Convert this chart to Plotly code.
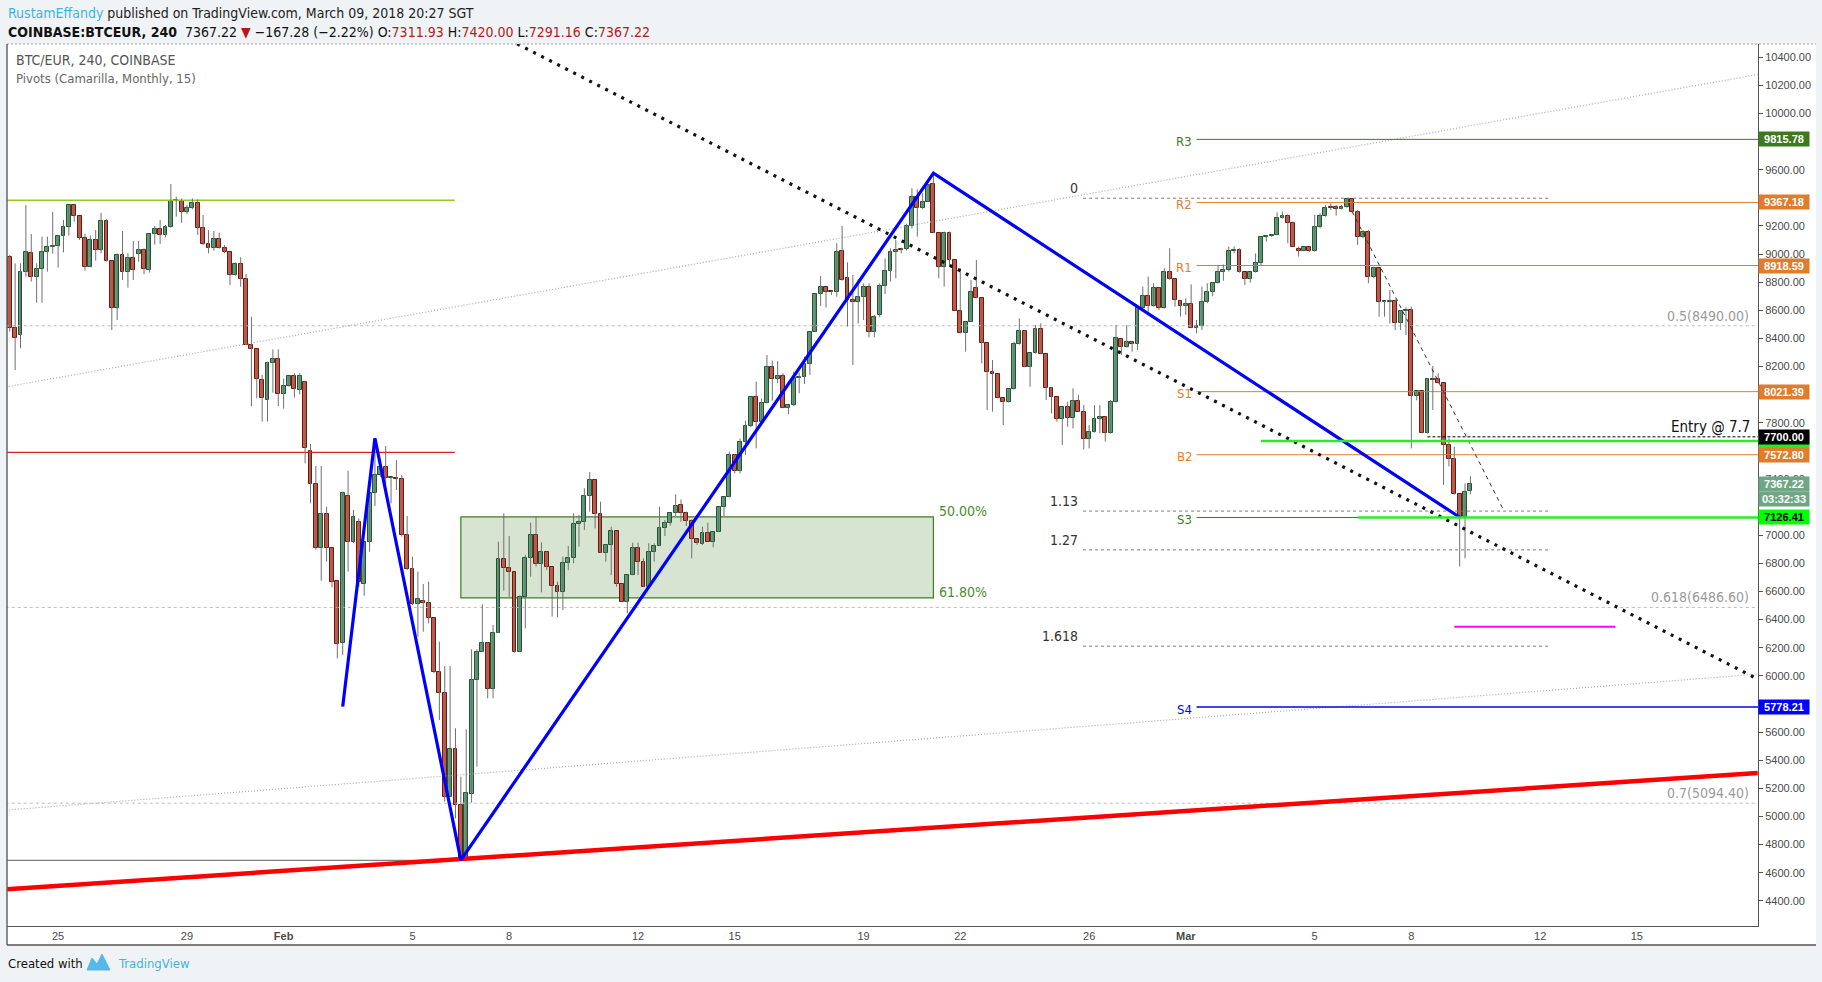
import plotly.graph_objects as go
import pandas as pd
import numpy as np

# ---------------- data ----------------
start_time = "2018-01-23 12:00"   # first 4h candle

opens = [
    8977, 8472, 8424, 8875, 9005, 8835, 8891, 9012, 9048, 9055,
    9126, 9190, 9349, 9268, 9112, 8906, 9098, 9027, 9233, 8948,
    8614, 8991, 8870, 8970, 9000, 9027, 8884, 9140, 9176, 9133,
    9190, 9380, 9378, 9297, 9325, 9361, 9183, 9069, 9041, 9105,
    9041, 9012, 8849, 8927, 8820, 8356, 8322, 8102, 7960, 8223,
    8251, 8002, 8059, 8130, 8031, 8088, 7599, 7362, 6907, 7149,
    6907, 6672, 6231, 7282, 6950, 7092, 6653, 6950, 7303, 7426,
    7483, 7407, 7410, 7398, 7002, 6758, 6511, 6530, 6516, 6409,
    6025, 5876, 5141, 5477, 5079, 4690, 5157, 5970, 6172, 6236,
    5904, 6307, 6829, 6765, 6736, 6172, 6558, 6841, 7000, 6796,
    6883, 6772, 6639, 6594, 6800, 6836, 7078, 7092, 7279, 7393,
    7149, 6876, 6931, 7028, 6651, 6523, 6717, 6907, 6808, 6634,
    6879, 6924, 7049, 7085, 7156, 7213, 7156, 7104, 6971, 6940,
    7019, 6955, 7026, 7199, 7274, 7568, 7455, 7661, 7777, 7981,
    7803, 7943, 8195, 8109, 8135, 7903, 7924, 8121, 8128, 8216,
    8448, 8714, 8764, 8737, 8728, 9024, 8828, 8673, 8661, 8697,
    8768, 8443, 8564, 8775, 8882, 9013, 9034, 9034, 9202, 9408,
    9325, 9373, 9498, 9148, 8911, 9148, 8958, 8598, 8441, 8519,
    8756, 8685, 8365, 8159, 8145, 7974, 7946, 8038, 8358, 8455,
    8195, 8294, 8465, 8287, 8050, 7981, 7825, 7910, 7832, 7953,
    7879, 7682, 7732, 7825, 7844, 7725, 7946, 8396, 8337, 8377,
    8360, 8614, 8704, 8633, 8761, 8614, 8870, 8820, 8667, 8633,
    8643, 8472, 8488, 8657, 8728, 8797, 8875, 8887, 9024, 9029,
    8870, 8820, 8870, 8934, 9119, 9131, 9136, 9254, 9273, 9219,
    9036, 9024, 9048, 9022, 9190, 9273, 9332, 9332, 9318, 9332,
    9389, 9302, 9119, 9155, 8835, 8898, 8657, 8662, 8669, 8512,
    8598, 8603, 7993, 8026, 7725, 8109, 8114, 8081, 7642, 7540,
    7291, 7132, 7311.93,
]
highs = [
    8993, 8934, 8934, 9349, 9143, 8934, 9124, 9124, 9299, 9136,
    9242, 9349, 9352, 9270, 9143, 9131, 9171, 9292, 9249, 8950,
    9005, 9164, 9005, 9093, 9093, 9041, 9140, 9200, 9242, 9207,
    9498, 9408, 9396, 9349, 9396, 9389, 9278, 9171, 9164, 9152,
    9064, 9015, 8941, 8977, 8858, 8555, 8325, 8140, 8235, 8322,
    8322, 8116, 8132, 8152, 8152, 8100, 7649, 7493, 7493, 7203,
    6910, 6675, 7310, 7459, 7180, 7120, 6955, 7305, 7678, 7485,
    7635, 7414, 7535, 7428, 7137, 6848, 6741, 6653, 6670, 6412,
    6243, 6070, 6070, 5627, 5283, 5620, 6189, 6189, 6509, 6240,
    6362, 6954, 7156, 6995, 6740, 6575, 6860, 7090, 7132, 6950,
    6885, 6775, 6670, 6848, 6924, 7156, 7144, 7334, 7450, 7395,
    7239, 6935, 7061, 7030, 6655, 6717, 6947, 6947, 6836, 6943,
    6943, 7203, 7109, 7158, 7291, 7255, 7168, 7113, 6973, 7061,
    7090, 7026, 7199, 7274, 7595, 7578, 7689, 7815, 7981, 8093,
    7974, 8282, 8242, 8240, 8152, 7924, 8164, 8156, 8270, 8448,
    8714, 8844, 8764, 8738, 9077, 9200, 8941, 8851, 8820, 8792,
    8792, 8567, 8792, 8970, 9041, 9100, 9045, 9215, 9468, 9461,
    9432, 9498, 9574, 9150, 9160, 9160, 8960, 8899, 8521, 8816,
    8958, 8687, 8367, 8247, 8147, 7976, 8038, 8377, 8543, 8457,
    8294, 8496, 8507, 8289, 8052, 7983, 7910, 7950, 8045, 7998,
    7926, 7784, 7926, 7926, 7846, 7962, 8496, 8398, 8496, 8379,
    8614, 8768, 8839, 8792, 8763, 8899, 9041, 8822, 8669, 8685,
    8785, 8531, 8768, 8792, 8800, 8922, 8926, 9053, 9053, 9041,
    8872, 8872, 9005, 9119, 9136, 9140, 9297, 9302, 9283, 9230,
    9053, 9053, 9053, 9278, 9290, 9349, 9361, 9349, 9349, 9396,
    9396, 9313, 9171, 9171, 8910, 8900, 8667, 8745, 8678, 8600,
    8621, 8626, 8028, 8028, 8116, 8204, 8152, 8083, 7689, 7630,
    7293, 7369, 7420.00,
]
lows = [
    8448, 8175, 8330, 8839, 8804, 8654, 8654, 8875, 9005, 8903,
    9012, 9131, 9230, 9100, 8882, 8906, 8953, 9005, 8948, 8460,
    8531, 8816, 8761, 8816, 8945, 8856, 8868, 9067, 9072, 9119,
    9188, 9266, 9223, 9283, 9318, 9136, 9065, 9005, 9024, 9038,
    9005, 8780, 8845, 8768, 8354, 7919, 7974, 7808, 7808, 8014,
    7919, 7900, 8057, 7979, 8002, 7512, 7227, 6895, 6677, 6812,
    6630, 6124, 6150, 6741, 6945, 6634, 6570, 6883, 7208, 7415,
    7275, 7227, 7322, 6990, 6752, 6504, 6279, 6314, 6374, 6018,
    5686, 5105, 5140, 4986, 4688, 4688, 5098, 5354, 6170, 5840,
    5840, 6305, 6606, 6563, 6165, 6172, 6338, 6705, 6777, 6594,
    6752, 6421, 6416, 6468, 6752, 6800, 6919, 7038, 7168, 7049,
    6876, 6812, 6717, 6634, 6523, 6445, 6715, 6717, 6634, 6634,
    6812, 6922, 6995, 7068, 7137, 7097, 7066, 6836, 6931, 6931,
    6955, 6914, 7024, 7137, 7270, 7440, 7440, 7571, 7768, 7618,
    7801, 7938, 7957, 8081, 7903, 7862, 7919, 8010, 8076, 8140,
    8448, 8631, 8619, 8709, 8697, 8811, 8484, 8211, 8507, 8531,
    8408, 8408, 8550, 8716, 8804, 8828, 9005, 9025, 9183, 9124,
    9320, 9370, 9148, 8828, 8768, 8910, 8598, 8436, 8306, 8517,
    8685, 8223, 7891, 7879, 7974, 7784, 7944, 8036, 8356, 8195,
    8057, 8292, 8287, 7962, 7867, 7808, 7642, 7772, 7760, 7879,
    7611, 7618, 7730, 7725, 7666, 7723, 7944, 8282, 8335, 8306,
    8318, 8612, 8590, 8626, 8602, 8612, 8818, 8626, 8555, 8567,
    8472, 8436, 8460, 8650, 8700, 8790, 8810, 8875, 9005, 8868,
    8780, 8797, 8868, 8922, 9088, 9120, 9134, 9252, 9077, 9053,
    8982, 9020, 9015, 9017, 9183, 9266, 9313, 9273, 9318, 9330,
    9290, 9065, 9112, 8792, 8828, 8555, 8555, 8507, 8460, 8460,
    8424, 7618, 7960, 7725, 7723, 7891, 8079, 7358, 7490, 7289,
    6777, 6836, 7291.16,
]
closes = [
    8472, 8401, 8875, 9012, 8835, 8891, 9012, 9048, 9055, 9126,
    9190, 9349, 9268, 9112, 8906, 9098, 9027, 9233, 8948, 8614,
    8991, 8870, 8970, 8884, 9027, 8896, 9140, 9176, 9133, 9190,
    9380, 9385, 9297, 9325, 9361, 9183, 9069, 9041, 9105, 9041,
    9012, 8849, 8927, 8820, 8356, 8322, 8109, 7979, 8223, 8251,
    8002, 8059, 8130, 8038, 8135, 7618, 7362, 6907, 7149, 6907,
    6665, 6226, 7298, 6950, 7128, 6665, 6950, 7303, 7426, 7483,
    7405, 7410, 7398, 7002, 6758, 6511, 6544, 6516, 6409, 6025,
    5876, 5141, 5477, 5079, 4690, 5164, 5970, 6172, 6236, 5904,
    6307, 6829, 6765, 6736, 6172, 6558, 6841, 7000, 6796, 6883,
    6772, 6639, 6594, 6800, 6836, 7078, 7092, 7279, 7393, 7149,
    6876, 6931, 7028, 6651, 6523, 6717, 6907, 6808, 6634, 6879,
    6924, 7049, 7085, 7156, 7208, 7156, 7104, 6971, 6943, 7019,
    6955, 7026, 7199, 7274, 7568, 7455, 7661, 7777, 7981, 7803,
    7943, 8195, 8109, 8135, 7903, 7924, 8121, 8128, 8216, 8448,
    8714, 8764, 8733, 8728, 9013, 8816, 8673, 8661, 8697, 8768,
    8443, 8555, 8775, 8882, 9013, 9029, 9029, 9202, 9408, 9325,
    9373, 9491, 9148, 8911, 9148, 8958, 8598, 8441, 8519, 8733,
    8685, 8365, 8159, 8147, 7974, 7946, 8038, 8358, 8455, 8195,
    8294, 8465, 8287, 8050, 7981, 7825, 7910, 7832, 7953, 7879,
    7682, 7732, 7825, 7839, 7725, 7946, 8401, 8337, 8377, 8360,
    8614, 8704, 8633, 8761, 8614, 8870, 8820, 8673, 8633, 8643,
    8472, 8488, 8657, 8728, 8797, 8875, 8887, 9024, 9029, 8870,
    8820, 8870, 8934, 9119, 9131, 9136, 9254, 9273, 9219, 9053,
    9024, 9048, 9022, 9190, 9273, 9325, 9325, 9318, 9332, 9389,
    9302, 9119, 9155, 8835, 8898, 8657, 8662, 8669, 8512, 8598,
    8603, 7993, 8026, 7725, 8109, 8104, 8081, 7642, 7540, 7291,
    7132, 7310, 7367.22,
]

x_range = ["2018-01-23 09:56", "2018-03-18 18:13"]
y_range = [4221, 10494]
left_edge, right_edge = "2018-01-23 09:00", "2018-03-18 18:00"

tick_dates = ["2018-01-25", "2018-01-29", "2018-02-01", "2018-02-05", "2018-02-08",
              "2018-02-12", "2018-02-15", "2018-02-19", "2018-02-22", "2018-02-26",
              "2018-03-01", "2018-03-05", "2018-03-08", "2018-03-12", "2018-03-15"]
tick_text = ["25", "29", "<b>Feb</b>", "5", "8", "12", "15", "19", "22", "26",
             "<b>Mar</b>", "5", "8", "12", "15"]
# price ticks (those fully hidden behind the coloured price boxes are left out)
price_ticks = [4400, 4600, 4800, 5000, 5200, 5400, 5600, 6000, 6200, 6400, 6600, 6800,
               7000, 7400, 7800, 8200, 8400, 8600, 8800, 9000, 9200, 9600, 10000,
               10200, 10400]

# Camarilla monthly pivots
pivot_names = ["R3", "R2", "R1", "S1", "B2", "S3", "S4"]
pivot_values = [9815.78, 9367.18, 8918.59, 8021.39, 7572.80, 7126.41, 5778.21]
pivot_start = "2018-03-01 08:00"

# Fib retracement (full width)
fib_ret_text = ["0.5(8490.00)", "0.618(6486.60)", "0.7(5094.40)"]
fib_ret_prices = [8490.00, 6486.60, 5094.40]

# Fib extension
fib_ext_text = ["0", "1.13", "1.27", "1.618"]
fib_ext_prices = [9397, 7172, 6896, 6211]
fib_ext_span = ["2018-02-25 19:30", "2018-03-12 07:00"]

# Fib zone box (50% - 61.8%)
zone_span = ["2018-02-06 12:00", "2018-02-21 04:00"]
zone_prices = [7131, 6554]
zone_text = ["50.00%", "61.80%"]

# Blue zig-zag pattern
pattern_times = ["2018-02-02 20:00", "2018-02-03 20:00", "2018-02-06 12:00",
                 "2018-02-21 04:00", "2018-03-09 12:00"]
pattern_prices = [5781, 7690, 4690, 9575, 7128]

# trend lines (two anchors each)
upper_gray_t, upper_gray_p = [left_edge, right_edge], [8055, 10277]
lower_gray_t, lower_gray_p = [left_edge, right_edge], [5045, 6012]
red_trend_t, red_trend_p = [left_edge, right_edge], [4482, 5309]
black_dot_t, black_dot_p = ["2018-02-08 00:00", right_edge], [10524, 5977]
drop_t, drop_p = ["2018-03-06 04:00", "2018-03-10 20:00"], [9301, 7192]

# horizontal levels at the left side
lime_level, red_level, low_level = 9382, 7590, 4688
left_lines_end = ["2018-02-06 07:30", "2018-02-06 07:30", "2018-02-06 10:00"]

# right side lines
lime_upper, lime_upper_start = 7670, "2018-03-03 08:00"
lime_lower_start = "2018-03-06 08:00"
entry_price, entry_start = 7700, "2018-03-08 12:00"
magenta_price, magenta_span = 6350, ["2018-03-09 08:00", "2018-03-14 08:00"]

# ---------------- styling ----------------
W, H = 1822, 982
ML, MR, MT, MB = 7, 64, 44, 56
PW, PH = W - ML - MR, H - MT - MB

def PX(x):
    return (x - ML) / PW

def PY(y):
    return (H - MB - y) / PH

NARROW = "Liberation Sans Narrow, DejaVu Sans Condensed, Arial Narrow, sans-serif"
SANS = "Liberation Sans, Arial, sans-serif"
UP_FILL, UP_EDGE = "#5f9f77", "#1f5530"
DN_FILL, DN_EDGE = "#d9503c", "#6a1a10"
WICK = "#707070"
ORANGE = "#e07d2d"
PIV_GREEN = "#3d7a1f"
LIME = "#2ee82e"
TEAL = "#6ea584"

times = pd.date_range(start_time, periods=len(closes), freq="4h")
o = np.array(opens, float); c = np.array(closes, float)
h = np.array(highs, float); l = np.array(lows, float)
up = c >= o
base = np.minimum(o, c)
body = np.maximum(np.abs(c - o), 7)
bar_w = 0.72 * 4 * 3600 * 1000

fig = go.Figure()

def add_line(xs, ys, color, width, dash="solid"):
    fig.add_trace(go.Scatter(x=xs, y=ys, mode="lines", hoverinfo="skip",
                             line=dict(color=color, width=width, dash=dash),
                             showlegend=False))

# background levels (behind candles)
for p in fib_ret_prices:
    add_line([left_edge, "2018-03-19 00:00"], [p, p], "#bdbdbd", 1, "3px,3px")
for p in fib_ext_prices:
    add_line(fib_ext_span, [p, p], "#7a7a7a", 1, "3px,3px")
add_line(upper_gray_t, upper_gray_p, "#a8a8a8", 1.2, "1px,2px")
add_line(lower_gray_t, lower_gray_p, "#a8a8a8", 1.2, "1px,2px")

piv_colors = [PIV_GREEN, ORANGE, ORANGE, ORANGE, ORANGE, PIV_GREEN, "#0000ff"]
for name, p, col in zip(pivot_names, pivot_values, piv_colors):
    add_line([pivot_start, "2018-03-19 00:00"], [p, p], col, 1.4 if name == "S4" else 1)

add_line([left_edge, left_lines_end[0]], [lime_level, lime_level], "#8fce1e", 1.5)
add_line([left_edge, left_lines_end[1]], [red_level, red_level], "#e02020", 1.3)
add_line([left_edge, left_lines_end[2]], [low_level, low_level], "#808080", 1.3)

# candles: wicks then bodies
wx, wy = [], []
for t, lo, hi in zip(times, l, h):
    wx += [t, t, None]
    wy += [lo, hi, None]
add_line(wx, wy, WICK, 1)
fig.add_trace(go.Bar(x=times[up], y=body[up], base=base[up], width=bar_w,
                     marker=dict(color=UP_FILL, line=dict(color=UP_EDGE, width=1)),
                     hoverinfo="skip", showlegend=False))
fig.add_trace(go.Bar(x=times[~up], y=body[~up], base=base[~up], width=bar_w,
                     marker=dict(color=DN_FILL, line=dict(color=DN_EDGE, width=1)),
                     hoverinfo="skip", showlegend=False))

# drawings above candles
add_line(drop_t, drop_p, "#333333", 1, "4px,4px")
add_line(red_trend_t, red_trend_p, "#ff0000", 4.5)
add_line(black_dot_t, black_dot_p, "#111111", 3.2, "3px,6px")
add_line(pattern_times, pattern_prices, "#0000ff", 3.2)
add_line([lime_upper_start, "2018-03-19 00:00"], [lime_upper, lime_upper], LIME, 2.6)
add_line([lime_lower_start, "2018-03-19 00:00"], [pivot_values[5], pivot_values[5]], LIME, 2.6)
add_line([entry_start, "2018-03-19 00:00"], [entry_price, entry_price], "#000000", 1, "3px,2px")
add_line(magenta_span, [magenta_price, magenta_price], "#ff00ff", 2)

shapes = [
    # white chart frame incl. price / time axis area
    dict(type="rect", xref="paper", yref="paper", x0=PX(7), x1=PX(1816), y0=PY(945), y1=PY(44),
         fillcolor="white", line=dict(width=0), layer="below"),
    # green 50-61.8% zone
    dict(type="rect", xref="x", yref="y", x0=zone_span[0], x1=zone_span[1],
         y0=zone_prices[1], y1=zone_prices[0], fillcolor="rgba(80,140,60,0.23)",
         line=dict(color="#3f7d22", width=1.2), layer="below"),
    # frame borders
    dict(type="line", xref="paper", yref="paper", x0=PX(7), x1=PX(1816), y0=PY(44), y1=PY(44),
         line=dict(color="#9a9a9a", width=1, dash="2px,2px")),
    dict(type="line", xref="paper", yref="paper", x0=PX(7), x1=PX(7), y0=PY(945), y1=PY(44),
         line=dict(color="#666666", width=1.5)),
    dict(type="line", xref="paper", yref="paper", x0=PX(7), x1=PX(1816), y0=PY(945), y1=PY(945),
         line=dict(color="#555555", width=1.5)),
    # TradingView logo (small mountain / cloud)
    dict(type="path", xref="paper", yref="paper",
         path="M {} {} L {} {} L {} {} L {} {} L {} {} Z".format(
             PX(87), PY(970), PX(92), PY(958), PX(97), PY(964), PX(102), PY(954), PX(110), PY(970)),
         fillcolor="#56b8e6", line=dict(color="#56b8e6", width=1)),
]

ann = []

def text(x, y, s, size=13, color="#333333", family=NARROW, xanchor="left", yanchor="middle"):
    ann.append(dict(xref="paper", yref="paper", x=PX(x), y=PY(y), text=s, showarrow=False,
                    xanchor=xanchor, yanchor=yanchor, font=dict(size=size, color=color, family=family)))

RED = "#b01c1c"
text(6, 13, "<span style='color:#3bb3e4'>RustamEffandy</span> published on TradingView.com, March 09, 2018 20:27 SGT",
     size=14, color="#222222")
text(6, 32, "<b>COINBASE:BTCEUR, 240</b>  7367.22 <span style='color:%s'>▼</span> −167.28 (−2.22%%) "
     "O:<span style='color:%s'>7311.93</span> H:<span style='color:%s'>7420.00</span> "
     "L:<span style='color:%s'>7291.16</span> C:<span style='color:%s'>7367.22</span>" % (RED, RED, RED, RED, RED),
     size=14, color="#111111")
text(14, 60, "BTC/EUR, 240, COINBASE", size=14, color="#555555")
text(14, 78, "Pivots (Camarilla, Monthly, 15)", size=13, color="#666666")
text(6, 963, "Created with", size=13, color="#111111")
text(116, 963, "TradingView", size=13, color="#3bb3e4")
text(1752, 427, "Entry @ 7.7", size=15, color="#111111", xanchor="right")

# fib retracement labels
for s, p in zip(fib_ret_text, fib_ret_prices):
    ann.append(dict(xref="paper", yref="y", x=PX(1751), y=p, text=s, showarrow=False,
                    xanchor="right", yanchor="bottom", yshift=0,
                    font=dict(size=14, color="#9a9a9a", family=NARROW)))
# fib extension labels
for s, p in zip(fib_ext_text, fib_ext_prices):
    ann.append(dict(xref="x", yref="y", x=fib_ext_span[0], y=p, text=s, showarrow=False,
                    xanchor="right", yanchor="bottom", xshift=-3, yshift=0,
                    font=dict(size=14, color="#333333", family=NARROW)))
# zone labels
for s, p in zip(zone_text, zone_prices):
    ann.append(dict(xref="x", yref="y", x=zone_span[1], y=p, text=s, showarrow=False,
                    xanchor="left", yanchor="middle", xshift=4, yshift=6,
                    font=dict(size=14, color="#4c8a30", family=NARROW)))
# pivot labels
for name, p, col in zip(pivot_names, pivot_values, piv_colors):
    ann.append(dict(xref="x", yref="y", x=pivot_start, y=p, text=name, showarrow=False,
                    xanchor="right", yanchor="middle", xshift=-3, yshift=-2,
                    font=dict(size=13, color=col, family=NARROW)))

# price axis boxes
boxes = [
    ("9815.78", 9815.78, PIV_GREEN, "white"),
    ("9367.18", 9367.18, ORANGE, "white"),
    ("8918.59", 8918.59, ORANGE, "white"),
    ("8021.39", 8021.39, ORANGE, "white"),
    (" ", 7670, LIME, "black"),
    ("7700.00", 7700, "#000000", "white"),
    ("7572.80", 7572.80, ORANGE, "white"),
    ("7367.22", 7367.22, TEAL, "white"),
    ("03:32:33", 7258, TEAL, "white"),
    ("7126.41", 7126.41, "#00ff00", "black"),
    ("5778.21", 5778.21, "#0000ff", "white"),
]
for s, p, bg, fg in boxes:
    ann.append(dict(xref="paper", yref="y", x=1, y=p, text="<b>%s</b>" % s if s.strip() else s,
                    showarrow=False, xanchor="left", yanchor="middle", width=50, height=14,
                    bgcolor=bg, borderpad=0, align="center",
                    font=dict(size=11, color=fg, family=SANS)))

fig.update_layout(
    width=W, height=H,
    margin=dict(l=ML, r=MR, t=MT, b=MB, pad=0),
    paper_bgcolor="#f0f3f6", plot_bgcolor="white",
    barmode="overlay", bargap=0, showlegend=False,
    shapes=shapes, annotations=ann,
    xaxis=dict(type="date", range=x_range, tickvals=tick_dates, ticktext=tick_text,
               showgrid=False, zeroline=False, showline=True, linecolor="#555555", linewidth=1,
               ticks="", tickfont=dict(size=11, color="#4a4a4a", family=SANS), fixedrange=True),
    yaxis=dict(range=y_range, side="right", tickvals=price_ticks,
               ticktext=["%.2f" % v for v in price_ticks], showgrid=False, zeroline=False,
               showline=True, linecolor="#555555", linewidth=1, ticks="outside", ticklen=4,
               tickcolor="#555555", tickfont=dict(size=11, color="#4a4a4a", family=SANS),
               fixedrange=True),
)

fig.write_html("out.html")
